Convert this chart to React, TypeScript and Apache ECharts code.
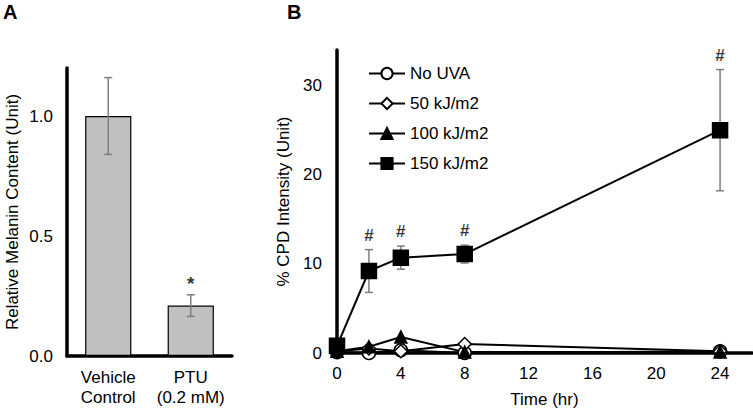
import React, { useEffect, useRef } from "react";
import * as echarts from "echarts";

const catsA = ["Vehicle\nControl", "PTU\n(0.2 mM)"];
const meltA = [1.0, 0.21];
const errA = [0.16, 0.045];
const sigA = ["", "*"];

const timeB = [0, 2, 4, 8, 24];
const noUva = [0.1, 0.0, 0.3, 0.0, 0.2];
const uva50 = [0.2, 0.5, 0.2, 1.0, 0.2];
const uva100 = [0.2, 0.7, 1.8, 0.1, 0.1];
const uva150 = [0.8, 9.2, 10.7, 11.1, 25.0];
const err150 = [0.3, 2.4, 1.3, 1.0, 6.8];
const sig150 = ["", "#", "#", "#", "#"];
const xTicksB = [0, 4, 8, 12, 16, 20, 24];

const FONT = "Liberation Sans, Arial, sans-serif";
const FS = 17;

function errRender(params: any, api: any) {
  const x = api.value(0);
  const lo = api.value(1);
  const hi = api.value(2);
  const p1 = api.coord([x, lo]);
  const p2 = api.coord([x, hi]);
  const w = 4;
  const style = { stroke: "#7f7f7f", lineWidth: 1.5 };
  return {
    type: "group",
    children: [
      { type: "line", shape: { x1: p1[0], y1: p1[1], x2: p2[0], y2: p2[1] }, style },
      { type: "line", shape: { x1: p1[0] - w, y1: p1[1], x2: p1[0] + w, y2: p1[1] }, style },
      { type: "line", shape: { x1: p2[0] - w, y1: p2[1], x2: p2[0] + w, y2: p2[1] }, style },
    ],
  };
}

export default function App() {
  const ref = useRef<HTMLDivElement>(null);
  useEffect(() => {
    const chart = echarts.init(ref.current!, null, { renderer: "svg" });
    const axisLine = { show: true, lineStyle: { color: "#000", width: 3.5 } };
    const lineSeries = (name: string, vals: number[], symbol: string, size: number, fill: string) => ({
      name,
      type: "line",
      xAxisIndex: 1,
      yAxisIndex: 1,
      data: timeB.map((t, i) => [t, vals[i]]),
      symbol,
      symbolSize: size,
      showAllSymbol: true,
      lineStyle: { color: "#000", width: 2 },
      itemStyle: { color: fill, borderColor: "#000", borderWidth: 1.5 },
      z: 3,
    });
    chart.setOption({
      animation: false,
      textStyle: { fontFamily: FONT, color: "#000" },
      grid: [
        { left: 67, right: 521, top: 68, bottom: 57 },
        { left: 337, right: 1, top: 50, bottom: 58 },
      ],
      legend: {
        data: ["No UVA", "50 kJ/m2", "100 kJ/m2", "150 kJ/m2"],
        orient: "vertical",
        left: 363,
        top: 60,
        itemWidth: 36,
        itemHeight: 14,
        itemGap: 13,
        textStyle: { fontSize: FS, color: "#000", fontFamily: FONT },
      },
      xAxis: [
        {
          type: "category",
          gridIndex: 0,
          data: catsA,
          axisLine,
          axisTick: { show: false },
          axisLabel: { interval: 0, hideOverlap: false, fontSize: FS, color: "#000", margin: 11, lineHeight: 20, fontFamily: FONT },
        },
        {
          type: "value",
          gridIndex: 1,
          min: 0,
          max: 26,
          interval: 4,
          axisLine,
          axisTick: { show: false },
          splitLine: { show: false },
          axisLabel: {
            fontSize: FS,
            color: "#000",
            margin: 12,
            fontFamily: FONT,
            showMaxLabel: false,
            formatter: (v: number) => (xTicksB.includes(v) ? String(v) : ""),
          },
          name: "Time (hr)",
          nameLocation: "middle",
          nameGap: 38,
          nameTextStyle: { fontSize: FS, color: "#000", fontFamily: FONT },
        },
      ],
      yAxis: [
        {
          type: "value",
          gridIndex: 0,
          min: 0,
          max: 1.2,
          interval: 0.5,
          axisLine,
          axisTick: { show: false },
          splitLine: { show: false },
          axisLabel: {
            fontSize: FS,
            color: "#000",
            margin: 14,
            fontFamily: FONT,
            showMaxLabel: false,
            formatter: (v: number) => (Math.abs(v - 1.2) < 1e-6 ? "" : v.toFixed(1)),
          },
          name: "Relative Melanin Content (Unit)",
          nameLocation: "middle",
          nameGap: 46,
          nameTextStyle: { fontSize: FS, color: "#000", fontFamily: FONT },
        },
        {
          type: "value",
          gridIndex: 1,
          min: 0,
          max: 34,
          interval: 10,
          axisLine,
          axisTick: { show: false },
          splitLine: { show: false },
          axisLabel: {
            fontSize: FS,
            color: "#000",
            margin: 15,
            fontFamily: FONT,
            showMaxLabel: false,
            formatter: (v: number) => (v % 10 === 0 ? String(v) : ""),
          },
          name: "% CPD Intensity (Unit)",
          nameLocation: "middle",
          nameGap: 41,
          nameTextStyle: { fontSize: FS, color: "#000", fontFamily: FONT },
        },
      ],
      series: [
        {
          type: "bar",
          xAxisIndex: 0,
          yAxisIndex: 0,
          data: meltA,
          barWidth: "56%",
          itemStyle: { color: "#c0c0c0", borderColor: "#000", borderWidth: 1.2 },
          z: 2,
        },
        {
          type: "custom",
          xAxisIndex: 0,
          yAxisIndex: 0,
          data: meltA.map((v, i) => [i, v - errA[i], v + errA[i]]),
          encode: { x: 0, y: [1, 2] },
          renderItem: errRender,
          z: 4,
        },
        {
          type: "scatter",
          xAxisIndex: 0,
          yAxisIndex: 0,
          symbolSize: 0,
          data: meltA.map((v, i) => [i, v + errA[i]]),
          label: {
            show: true,
            position: "top",
            distance: 2,
            formatter: (p: any) => sigA[p.dataIndex],
            fontSize: 19,
            fontWeight: "bold",
            color: "#000",
            fontFamily: FONT,
          },
          silent: true,
          z: 5,
        },
        {
          type: "custom",
          xAxisIndex: 1,
          yAxisIndex: 1,
          data: timeB.map((t, i) => [t, uva150[i] - err150[i], uva150[i] + err150[i]]),
          encode: { x: 0, y: [1, 2] },
          renderItem: errRender,
          z: 2,
        },
        lineSeries("No UVA", noUva, "circle", 13, "#fff"),
        lineSeries("50 kJ/m2", uva50, "diamond", 13, "#fff"),
        lineSeries("100 kJ/m2", uva100, "triangle", 12, "#000"),
        lineSeries("150 kJ/m2", uva150, "rect", 15, "#000"),
        {
          type: "scatter",
          xAxisIndex: 1,
          yAxisIndex: 1,
          symbolSize: 0,
          data: timeB.map((t, i) => [t, uva150[i] + err150[i]]),
          label: {
            show: true,
            position: "top",
            distance: 6,
            formatter: (p: any) => sig150[p.dataIndex],
            fontSize: 17,
            fontWeight: "bold",
            color: "#000",
            fontFamily: FONT,
          },
          silent: true,
          z: 5,
        },
      ],
      graphic: [
        { type: "text", left: 3, top: 2, style: { text: "A", fontSize: 20, fontWeight: "bold", fill: "#000", fontFamily: FONT } },
        { type: "text", left: 287, top: 2, style: { text: "B", fontSize: 20, fontWeight: "bold", fill: "#000", fontFamily: FONT } },
      ],
    });
    return () => chart.dispose();
  }, []);
  return <div ref={ref} style={{ width: 753, height: 413, position: "absolute", left: 0, top: 0 }} />;
}
